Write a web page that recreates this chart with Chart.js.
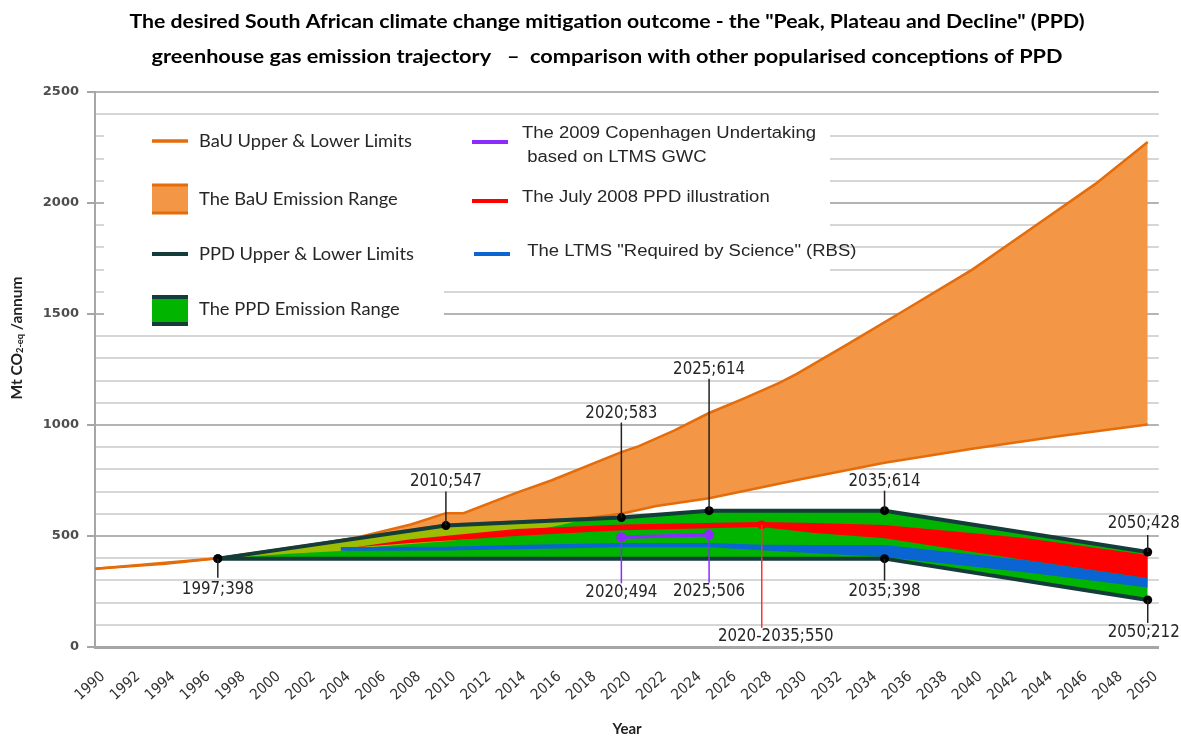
<!DOCTYPE html>
<html>
<head>
<meta charset="utf-8">
<script src="https://cdn.jsdelivr.net/npm/chart.js@4.4.1/dist/chart.umd.min.js"></script>
<style>
html,body{margin:0;padding:0;background:#fff;}
canvas{display:block;}
</style>
</head>
<body>
<canvas id="c" width="1181" height="737"></canvas>
<script>
// ---------------- DATA ----------------
const bauUpperYears  = [1990,1994,1997,2001,2005,2008,2010,2011,2014,2016,2020,2021,2023,2025,2027,2029,2030,2033,2036,2040,2043,2047,2050];
const bauUpperValues = [352, 375, 400, 440, 495, 552, 603, 603, 694, 750, 878, 905, 975,1054,1120,1190,1230,1369,1510,1700,1865,2085,2275];
const bauLowerYears  = [1990,1997,2010,2018,2020,2022,2025,2030,2035,2040,2045,2050];
const bauLowerValues = [352, 400, 550, 580, 600, 635, 670, 752, 830, 893, 950,1002];
const ppdUpperYears  = [1997,2010,2020,2025,2035,2050];
const ppdUpperValues = [398, 547, 583, 614, 614, 428];
const ppdLowerYears  = [1997,2035,2050];
const ppdLowerValues = [398, 398, 212];
const oliveYears     = [1997,2001,2004,2006,2010,2014,2016,2018];
const oliveValues    = [398, 420, 432, 452, 476, 510, 540, 576];
const redYears        = [2005,2008,2014,2020,2028,2031,2035,2043,2050];
const redTopValues    = [452, 485, 532, 552, 563, 558, 550, 491, 414];
const redBottomValues = [450, 468, 500, 526, 540, 513, 490, 392, 310];
const blueYears        = [2004,2010,2014,2020,2025,2028,2031,2035,2043,2050];
const blueTopValues    = [450, 452, 460, 469, 469, 461, 459, 459, 392, 310];
const blueBottomValues = [433, 435, 440, 449, 449, 436, 422, 405, 337, 268];
const copenhagenYears  = [2020,2025];
const copenhagenValues = [494, 506];
const july2008Years    = [2028];
const july2008Values   = [550];
const july2008Label    = '2020-2035;550';

const titleLines = [
  'The desired South African climate change mitigation outcome - the "Peak, Plateau and Decline" (PPD)',
  'greenhouse gas emission trajectory   \u2013  comparison with other popularised conceptions of PPD'
];
const legendLeft = ['BaU Upper & Lower Limits','The BaU Emission Range','PPD Upper & Lower Limits','The PPD Emission Range'];
const legendRight = [['The 2009 Copenhagen Undertaking',' based on LTMS GWC'],['The July 2008 PPD illustration'],[' The LTMS "Required by Science" (RBS)']];

// ---------------- STYLE ----------------
const C = {
  orangeLine:'#E46C0A', orangeFill:'#F39646', dark:'#133C3A', green:'#00B400',
  olive:'#9DBE00', red:'#FF0000', blue:'#0A64D2', purple:'#8B2BFF', text:'#262626'
};
const pts = (xs, ys) => xs.map((x, i) => ({x: x, y: ys[i]}));
const hidden = {borderWidth:0, borderColor:'rgba(0,0,0,0)', pointRadius:0};

const datasets = [
  {data: pts(bauUpperYears, bauUpperValues), borderColor:C.orangeLine, borderWidth:2.5, backgroundColor:C.orangeFill, fill:1, pointRadius:0, order:20},
  {data: pts(bauLowerYears, bauLowerValues), borderColor:C.orangeLine, borderWidth:2.5, fill:false, pointRadius:0, order:19},
  Object.assign({data: pts(ppdUpperYears, ppdUpperValues), backgroundColor:C.green, fill:3, order:18}, hidden),
  Object.assign({data: pts(ppdLowerYears, ppdLowerValues), fill:false, order:17}, hidden),
  Object.assign({data: pts(oliveYears, oliveValues), backgroundColor:C.olive, fill:2, order:16}, hidden),
  Object.assign({data: pts(redYears, redTopValues), backgroundColor:C.red, fill:6, order:15}, hidden),
  Object.assign({data: pts(redYears, redBottomValues), fill:false, order:14}, hidden),
  Object.assign({data: pts(blueYears, blueTopValues), backgroundColor:C.blue, fill:8, order:13}, hidden),
  Object.assign({data: pts(blueYears, blueBottomValues), fill:false, order:12}, hidden),
  {data: pts(copenhagenYears, copenhagenValues), borderColor:C.purple, borderWidth:3.5, fill:false, pointRadius:5, pointBackgroundColor:C.purple, pointBorderWidth:0, order:5},
  {data: pts(ppdUpperYears, ppdUpperValues), borderColor:C.dark, borderWidth:4, fill:false, pointRadius:4.5, pointBackgroundColor:'#000', pointBorderWidth:0, order:3},
  {data: pts(ppdLowerYears, ppdLowerValues), borderColor:C.dark, borderWidth:4, fill:false, pointRadius:4.5, pointBackgroundColor:'#000', pointBorderWidth:0, order:2},
  {data: pts(july2008Years, july2008Values), showLine:false, fill:false, pointRadius:4.5, pointBackgroundColor:C.red, pointBorderWidth:0, order:1}
];

// annotation leaders: dataset index, point index, leader length, label offset, dx, colour
const annotations = [
  {ds:10, i:0, lead: 19, lab: 31, dx:0, col:'#222'},
  {ds:10, i:1, lead:-34, lab:-44, dx:0, col:'#222'},
  {ds:10, i:2, lead:-95, lab:-104, dx:0, col:'#222'},
  {ds:10, i:3, lead:-132, lab:-141, dx:0, col:'#222'},
  {ds:10, i:4, lead:-20, lab:-29, dx:0, col:'#222'},
  {ds:10, i:5, lead:-17, lab:-28, dx:-4, col:'#222'},
  {ds:11, i:1, lead: 22, lab: 33, dx:0, col:'#222'},
  {ds:11, i:2, lead: 23, lab: 33, dx:-4, col:'#222'},
  {ds:9,  i:0, lead: 46, lab: 55, dx:0, col:C.purple},
  {ds:9,  i:1, lead: 48, lab: 57, dx:0, col:C.purple},
  {ds:12, i:0, lead:103, lab:112, dx:14, col:'#FF3030', text:july2008Label}
];

function fitText(ctx, text, cx, cy, scaleX, align) {
  ctx.save();
  ctx.translate(cx, cy);
  ctx.scale(scaleX, 1);
  ctx.textAlign = align || 'center';
  ctx.fillText(text, 0, 0);
  ctx.restore();
}
function hLine(ctx, x1, x2, y, col, w) {
  ctx.beginPath(); ctx.moveTo(x1, y); ctx.lineTo(x2, y);
  ctx.strokeStyle = col; ctx.lineWidth = w; ctx.stroke();
}

const overlay = {
  id:'overlay',
  afterDatasetsDraw(chart) {
    const ctx = chart.ctx;
    // leaders and value labels
    ctx.save();
    ctx.font = '17px "DejaVu Sans Condensed", "Liberation Sans Narrow", "DejaVu Sans", sans-serif';
    const s = 72 / ctx.measureText('1997;398').width;
    ctx.textBaseline = 'middle';
    annotations.forEach(a => {
      const el = chart.getDatasetMeta(a.ds).data[a.i];
      const raw = chart.data.datasets[a.ds].data[a.i];
      ctx.beginPath();
      ctx.moveTo(el.x, el.y);
      ctx.lineTo(el.x, el.y + a.lead);
      ctx.strokeStyle = a.col; ctx.lineWidth = 1.5; ctx.stroke();
      ctx.fillStyle = C.text;
      fitText(ctx, a.text || (raw.x + ';' + raw.y), el.x + a.dx, el.y + a.lab, s, 'center');
    });
    ctx.restore();

    // legend
    ctx.save();
    ctx.fillStyle = '#fff';
    ctx.fillRect(104, 118, 726, 163);
    ctx.fillRect(104, 281, 340, 50);
    hLine(ctx, 152, 188, 141, C.orangeLine, 3.5);
    ctx.fillStyle = C.orangeFill; ctx.fillRect(152, 184, 36, 30);
    hLine(ctx, 152, 188, 185, C.orangeLine, 3);
    hLine(ctx, 152, 188, 213, C.orangeLine, 3);
    hLine(ctx, 152, 188, 254, C.dark, 4);
    ctx.fillStyle = C.green; ctx.fillRect(152, 295, 36, 30);
    hLine(ctx, 152, 188, 297, C.dark, 4);
    hLine(ctx, 152, 188, 324, C.dark, 4);
    hLine(ctx, 472, 508, 142, C.purple, 4);
    hLine(ctx, 472, 508, 201, C.red, 4);
    hLine(ctx, 474, 510, 254, C.blue, 4);

    ctx.textBaseline = 'middle';
    ctx.fillStyle = '#262626';
    ctx.font = '18px Lato, "Open Sans", sans-serif';
    const sl = 213 / ctx.measureText(legendLeft[0]).width;
    const ly = [141, 199, 254, 309];
    legendLeft.forEach((t, k) => fitText(ctx, t, 199, ly[k], sl, 'left'));
    ctx.font = '16px "Liberation Sans", Arial, sans-serif';
    const sr = 294 / ctx.measureText(legendRight[0][0]).width;
    fitText(ctx, legendRight[0][0], 522, 134, sr, 'left');
    fitText(ctx, legendRight[0][1], 522, 158, sr, 'left');
    fitText(ctx, legendRight[1][0], 522, 198, sr, 'left');
    fitText(ctx, legendRight[2][0], 522, 252, sr, 'left');
    ctx.restore();
  },
  afterDraw(chart) {
    const ctx = chart.ctx;
    ctx.save();
    ctx.fillStyle = '#000';
    ctx.textBaseline = 'middle';
    ctx.font = 'bold 19px Lato, "Open Sans", sans-serif';
    fitText(ctx, titleLines[0], 607, 22, 955 / ctx.measureText(titleLines[0]).width, 'center');
    fitText(ctx, titleLines[1], 607, 57, 911 / ctx.measureText(titleLines[1]).width, 'center');

    // x axis title
    ctx.font = 'bold 15px Lato, "Open Sans", sans-serif';
    ctx.fillStyle = '#222';
    fitText(ctx, 'Year', 627, 729, 1, 'center');

    // y axis title with subscript
    ctx.translate(17, 338);
    ctx.rotate(-Math.PI / 2);
    const parts = [['Mt CO', 'bold 15px Lato, sans-serif', 0], ['2-eq', 'bold 9px Lato, sans-serif', 3], [' /annum', 'bold 15px Lato, sans-serif', 0]];
    let total = 0;
    parts.forEach(p => { ctx.font = p[1]; p.push(ctx.measureText(p[0]).width); total += p[3]; });
    const sc = 123 / total;
    ctx.scale(sc, 1);
    let x = -total / 2;
    ctx.textAlign = 'left';
    parts.forEach(p => { ctx.font = p[1]; ctx.fillText(p[0], x, p[2]); x += p[3]; });
    ctx.restore();
  }
};

new Chart(document.getElementById('c'), {
  type:'line',
  data:{datasets: datasets},
  options:{
    responsive:false, animation:false, events:[],
    layout:{padding:{top:92, right:22, left:0, bottom:0}},
    plugins:{legend:{display:false}, tooltip:{enabled:false}, title:{display:false}},
    elements:{line:{tension:0}},
    scales:{
      x:{
        type:'linear', min:1990, max:2050.63,
        grid:{display:false, drawTicks:false},
        border:{display:true, color:'#A6A6A6', width:3},
        ticks:{stepSize:2, autoSkip:false, includeBounds:false, minRotation:42, maxRotation:42,
               padding:21, labelOffset:8, color:'#333333',
               font:{family:'"DejaVu Sans Condensed", "Liberation Sans Narrow", "DejaVu Sans"', size:15},
               callback:v => String(v)},
        afterFit(s){ s.height = 90; }
      },
      y:{
        min:0, max:2500,
        grid:{color:c => (c.tick && c.tick.value % 500 === 0) ? '#B4B4B4' : '#D6D6D6', lineWidth:2, tickLength:8,
              tickColor:c => (c.tick && c.tick.value % 500 === 0) ? '#A6A6A6' : 'rgba(0,0,0,0)'},
        border:{display:true, color:'#A6A6A6', width:2},
        ticks:{stepSize:100, autoSkip:false, padding:8, color:'#4D4D4D',
               font:{family:'"DejaVu Sans"', size:13, weight:'bold'},
               callback:v => (v % 500 === 0 ? String(v) : '')},
        afterFit(s){ s.width = 95; }
      }
    }
  },
  plugins:[overlay]
});
</script>
</body>
</html>
